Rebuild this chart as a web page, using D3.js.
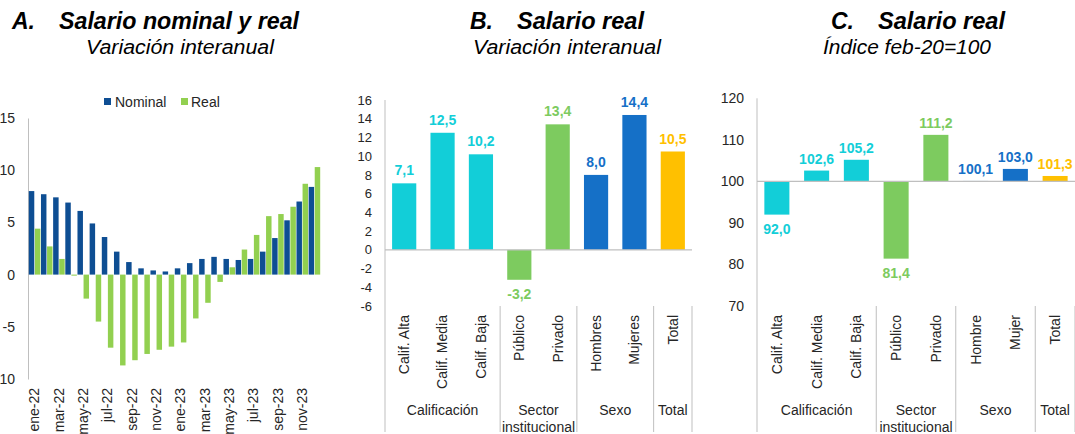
<!DOCTYPE html>
<html>
<head>
<meta charset="utf-8">
<script src="https://cdn.jsdelivr.net/npm/d3@7"></script>
<style>
  html, body { margin: 0; padding: 0; background: #fff; }
  svg { display: block; font-family: "Liberation Sans", Arial, sans-serif; }
</style>
</head>
<body>
<svg id="chart" width="1075" height="434"></svg>
<script>
// ---------- Panel A data ----------
const monthsA = ["ene-22","feb-22","mar-22","abr-22","may-22","jun-22","jul-22","ago-22","sep-22","oct-22","nov-22","dic-22",
                 "ene-23","feb-23","mar-23","abr-23","may-23","jun-23","jul-23","ago-23","sep-23","oct-23","nov-23","dic-23"];
const nominalA = [8.0,7.7,7.4,6.9,6.1,4.9,3.6,2.2,1.2,0.6,0.4,0.3,0.6,1.1,1.5,1.7,1.5,1.4,1.5,2.2,3.5,5.2,7.0,8.4];
const realA    = [4.4,2.7,1.5,-0.1,-2.3,-4.5,-7.0,-8.7,-8.2,-7.6,-7.2,-6.9,-6.5,-4.2,-2.7,-0.7,0.7,2.4,3.8,5.6,5.8,6.5,8.7,10.3];
const ticksA = [15,10,5,0,-5,-10];
const seriesNamesA = ["Nominal","Real"];

// ---------- Panel B data ----------
const catsB = ["Calif. Alta","Calif. Media","Calif. Baja","Público","Privado","Hombres","Mujeres","Total"];
const valsB = [7.1,12.5,10.2,-3.2,13.4,8.0,14.4,10.5];
const ticksB = [16,14,12,10,8,6,4,2,0,-2,-4,-6];

// ---------- Panel C data ----------
const catsC = ["Calif. Alta","Calif. Media","Calif. Baja","Público","Privado","Hombre","Mujer","Total"];
const valsC = [92.0,102.6,105.2,81.4,111.2,100.1,103.0,101.3];
const ticksC = [120,110,100,90,80,70];

// ---------- Shared category groups ----------
const groupNames = [["Calificación"],["Sector","institucional"],["Sexo"],["Total"]];
const groupSizes = [3,2,2,1];
const groupOfCat = ["cal","cal","cal","sec","sec","sex","sex","tot"];

// ---------- Styles ----------
const colorNominal = "#0E4E93", colorReal = "#92D050";
const groupColor = {cal:"#12CED8", sec:"#7DCB5F", sex:"#1570C7", tot:"#FFC000"};
const axisGray = "#BFBFBF";
const textCol = "#262626";
const fmt = v => d3.format(".1f")(v).replace(".", ",").replace("\u2212", "-");

const svg = d3.select("#chart");

// ---------- Titles ----------
function title(letterX, titleX, titleText, titleLen, subX, subText, subLen) {
  svg.append("text").attr("x", letterX).attr("y", 29)
    .attr("font-size", 23).attr("font-weight", "bold").attr("font-style", "italic").attr("fill", "#000")
    .text(titleText[0]);
  svg.append("text").attr("x", titleX).attr("y", 29)
    .attr("font-size", 23).attr("font-weight", "bold").attr("font-style", "italic").attr("fill", "#000")
    .attr("textLength", titleLen).attr("lengthAdjust", "spacingAndGlyphs")
    .text(titleText[1]);
  svg.append("text").attr("x", subX).attr("y", 54)
    .attr("font-size", 20).attr("font-style", "italic").attr("fill", "#000")
    .attr("textLength", subLen).attr("lengthAdjust", "spacingAndGlyphs")
    .text(subText);
}
title(12, 59, ["A.", "Salario nominal y real"], 240, 86, "Variación interanual", 188);
title(470, 517, ["B.", "Salario real"], 127, 473, "Variación interanual", 188);
title(831, 878, ["C.", "Salario real"], 127, 823, "Índice feb-20=100", 168);

// ---------- Panel A ----------
(function () {
  const y = d3.scaleLinear().domain([-10, 15]).range([379, 118]);
  const x = d3.scaleBand().domain(monthsA).range([28.5, 320.5]).padding(0);
  const sub = d3.scaleBand().domain(seriesNamesA).range([0, x.bandwidth()]).paddingInner(0.1).paddingOuter(0.05);
  const g = svg.append("g");

  // y axis
  const yAxis = d3.axisLeft(y).tickValues(ticksA).tickSize(0).tickPadding(13).tickFormat(d => String(d));
  const ya = g.append("g").attr("transform", "translate(28,0)").call(yAxis);
  ya.select(".domain").attr("stroke", axisGray).attr("stroke-width", 1);
  ya.selectAll("text").attr("font-size", 14).attr("fill", textCol).attr("font-family", "Liberation Sans, Arial, sans-serif");

  // bars
  const data = monthsA.map((m, i) => ({ m, Nominal: nominalA[i], Real: realA[i] }));
  seriesNamesA.forEach(s => {
    g.append("g").selectAll("rect").data(data).join("rect")
      .attr("x", d => x(d.m) + sub(s))
      .attr("width", sub.bandwidth())
      .attr("y", d => y(Math.max(0, d[s])))
      .attr("height", d => Math.abs(y(d[s]) - y(0)))
      .attr("fill", s === "Nominal" ? colorNominal : colorReal);
  });

  // x labels (every other month)
  g.append("g").selectAll("text").data(monthsA.filter((d, i) => i % 2 === 0)).join("text")
    .attr("transform", d => `translate(${x(d) + x.bandwidth() / 2},388) rotate(-90)`)
    .attr("text-anchor", "end").attr("dy", "0.35em")
    .attr("font-size", 14).attr("fill", textCol)
    .text(d => d);

  // legend
  const lg = g.append("g");
  lg.append("rect").attr("x", 104).attr("y", 98).attr("width", 7).attr("height", 7).attr("fill", colorNominal);
  lg.append("text").attr("x", 115).attr("y", 107).attr("font-size", 14).attr("fill", textCol).text(seriesNamesA[0]);
  lg.append("rect").attr("x", 181).attr("y", 98).attr("width", 7).attr("height", 7).attr("fill", colorReal);
  lg.append("text").attr("x", 191).attr("y", 107).attr("font-size", 14).attr("fill", textCol).text(seriesNamesA[1]);
})();

// ---------- Panels B & C ----------
function catPanel(opts) {
  const { cats, vals, ticks, domain, yRange, x0, x1, base, tickFs, labelAbove, labelBelow } = opts;
  const y = d3.scaleLinear().domain(domain).range(yRange);
  const x = d3.scaleBand().domain(cats).range([x0, x1]).padding(0);
  const bw = x.step() * 0.63;
  const g = svg.append("g");
  const plotBottom = yRange[0];

  // y axis
  const yAxis = d3.axisLeft(y).tickValues(ticks).tickSize(0).tickPadding(13).tickFormat(d => String(d));
  const ya = g.append("g").attr("transform", `translate(${x0},0)`).call(yAxis);
  ya.select(".domain").remove();
  ya.selectAll("text").attr("font-size", tickFs).attr("fill", textCol).attr("font-family", "Liberation Sans, Arial, sans-serif");
  g.append("line").attr("x1", x0).attr("x2", x0).attr("y1", yRange[1]).attr("y2", 432)
    .attr("stroke", axisGray).attr("stroke-width", 1);

  // bars
  const data = cats.map((c, i) => ({ c, v: vals[i], grp: groupOfCat[i] }));
  g.append("g").selectAll("rect").data(data).join("rect")
    .attr("x", d => x(d.c) + (x.step() - bw) / 2)
    .attr("width", bw)
    .attr("y", d => y(Math.max(base, d.v)))
    .attr("height", d => Math.max(0.5, Math.abs(y(d.v) - y(base))))
    .attr("fill", d => groupColor[d.grp]);

  // base line
  g.append("line").attr("x1", x0).attr("x2", x1).attr("y1", y(base)).attr("y2", y(base))
    .attr("stroke", axisGray).attr("stroke-width", 1.2);

  // data labels
  g.append("g").selectAll("text").data(data).join("text")
    .attr("x", d => x(d.c) + x.step() / 2)
    .attr("y", d => d.v >= base ? y(d.v) - labelAbove : y(d.v) + labelBelow)
    .attr("text-anchor", "middle").attr("font-size", 14).attr("font-weight", "bold")
    .attr("fill", d => groupColor[d.grp])
    .text(d => fmt(d.v));

  // category labels
  g.append("g").selectAll("text").data(cats).join("text")
    .attr("transform", d => `translate(${x(d) + x.step() / 2},315) rotate(-90)`)
    .attr("text-anchor", "end").attr("dy", "0.35em")
    .attr("font-size", 14).attr("fill", textCol)
    .text(d => d);

  // group separators & labels
  let idx = 0;
  groupSizes.forEach((n, gi) => {
    const start = x(cats[idx]);
    idx += n;
    const end = start + n * x.step();
    g.append("line").attr("x1", end).attr("x2", end).attr("y1", plotBottom).attr("y2", 432)
      .attr("stroke", axisGray).attr("stroke-width", 1);
    const t = g.append("text").attr("x", (start + end) / 2).attr("y", 415)
      .attr("text-anchor", "middle").attr("font-size", 14).attr("fill", textCol);
    groupNames[gi].forEach((line, li) => {
      t.append("tspan").attr("x", (start + end) / 2).attr("dy", li === 0 ? 0 : 17).text(line);
    });
  });
}

catPanel({ cats: catsB, vals: valsB, ticks: ticksB, domain: [-6, 16], yRange: [306, 100],
  x0: 385, x1: 692, base: 0, tickFs: 13, labelAbove: 8, labelBelow: 19 });
catPanel({ cats: catsC, vals: valsC, ticks: ticksC, domain: [70, 120], yRange: [306, 98.3],
  x0: 757, x1: 1075, base: 100, tickFs: 14, labelAbove: 7, labelBelow: 19 });
</script>
</body>
</html>
